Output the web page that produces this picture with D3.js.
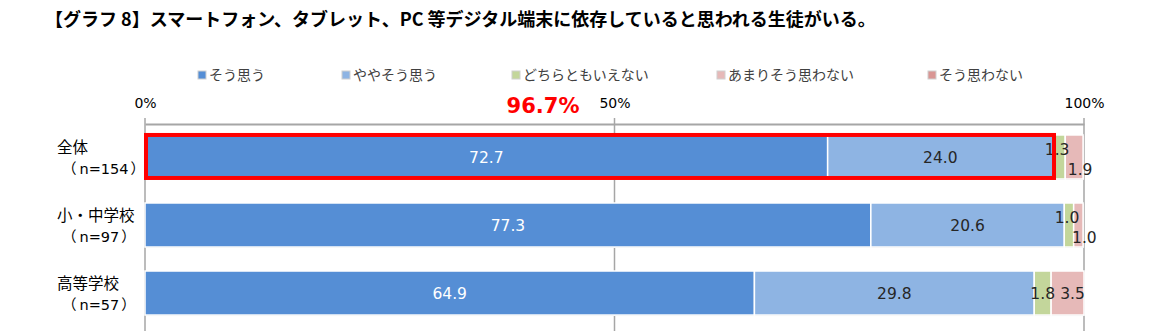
<!DOCTYPE html>
<html><head><meta charset="utf-8">
<script src="https://cdn.jsdelivr.net/npm/d3@7"></script>
<style>body{margin:0;background:#fff}svg{display:block}</style>
</head><body><svg id="c" width="1170" height="331"></svg>
<script>
const title = "【グラフ 8】スマートフォン、タブレット、PC 等デジタル端末に依存していると思われる生徒がいる。";
const categories = ["全体", "小・中学校", "高等学校"];
const sampleSizes = ["（n=154）", "（n=97）", "（n=57）"];
const seriesNames = ["そう思う", "ややそう思う", "どちらともいえない", "あまりそう思わない", "そう思わない"];
const soOmou = [72.7, 77.3, 64.9];
const yayaSoOmou = [24.0, 20.6, 29.8];
const dochiramo = [1.3, 1.0, 1.8];
const amariOmowanai = [1.9, 1.0, 3.5];
const soOmowanai = [0, 0, 0];
const tickValues = [0, 50, 100];
const tickLabels = ["0%", "50%", "100%"];
const highlightValue = 96.7;
const highlightLabel = "96.7%";
const colors = ["#558ED5", "#8EB4E3", "#C3D69B", "#E6B9B8", "#D99694"];

const series = [soOmou, yayaSoOmou, dochiramo, amariOmowanai, soOmowanai];
const svg = d3.select("#c");
const JP = "'Noto Sans CJK JP', 'Noto Sans', sans-serif";
const NUM = "'DejaVu Sans', sans-serif";

const x = d3.scaleLinear().domain([0, 100]).range([145, 1084]);
const y = d3.scaleBand().domain(categories).range([123, 327]).paddingInner(0.353).paddingOuter(0.176);

// title
svg.append("text").attr("x", 45).attr("y", 26).attr("font-family", JP).attr("font-weight", "bold")
  .attr("font-size", 18).attr("fill", "#000").text(title);

// legend
const legendX = [198, 342, 512, 717, 928];
const lg = svg.append("g");
seriesNames.forEach((n, i) => {
  lg.append("rect").attr("x", legendX[i]).attr("y", 71).attr("width", 8).attr("height", 8)
    .attr("fill", colors[i]).attr("stroke", "#d0d0d0").attr("stroke-width", 1);
  lg.append("text").attr("x", legendX[i] + 11).attr("y", 80).attr("font-family", JP)
    .attr("font-size", 14).attr("fill", "#404040").text(n);
});

// gridlines
svg.append("g").selectAll("line").data(tickValues).join("line")
  .attr("x1", d => x(d)).attr("x2", d => x(d)).attr("y1", 118).attr("y2", 331)
  .attr("stroke", "#a6a6a6").attr("stroke-width", 1.5);
// top axis
const axis = d3.axisTop(x).tickValues(tickValues).tickFormat((d, i) => tickLabels[i]).tickSize(0).tickPadding(16);
const ag = svg.append("g").attr("transform", "translate(0,124)").call(axis);
ag.select(".domain").attr("stroke", "#a6a6a6").attr("stroke-width", 2);
ag.selectAll("text").attr("font-family", NUM).attr("font-size", 14).attr("fill", "#000");

// stacked bars
const rows = categories.map((c, ri) => {
  let acc = 0;
  return series.map((s, si) => { const v = s[ri]; const seg = {c, ri, si, v, x0: acc, x1: acc + v}; acc += v; return seg; });
});
const bg = svg.append("g");
rows.forEach(r => {
  const total = r[r.length - 1].x1;
  bg.append("rect").attr("x", x(0) + 1).attr("y", y(r[0].c) + 1)
    .attr("width", x(total) - x(0)).attr("height", y.bandwidth()).attr("fill", "#dcdcdc");
});
const segs = rows.flat().filter(d => d.v > 0);
svg.append("g").selectAll("rect").data(segs).join("rect")
  .attr("x", d => x(d.x0)).attr("y", d => y(d.c))
  .attr("width", d => x(d.x1) - x(d.x0)).attr("height", y.bandwidth())
  .attr("fill", d => colors[d.si]).attr("stroke", "#fff").attr("stroke-width", 1.5);

// value labels
svg.append("g").selectAll("text").data(segs).join("text")
  .attr("x", d => {
    const cx = x((d.x0 + d.x1) / 2);
    if (d.ri < 2 && d.si === 2) return cx - 2;
    if (d.ri < 2 && d.si === 3) return cx + 6;
    if (d.ri === 2 && d.si === 3) return cx + 5;
    return cx;
  })
  .attr("y", d => {
    const cy = y(d.c) + y.bandwidth() / 2;
    if (d.ri < 2 && d.si === 2) return cy - 8;
    if (d.ri < 2 && d.si === 3) return cy + 12;
    return cy;
  })
  .attr("dy", "0.36em").attr("text-anchor", "middle")
  .attr("font-family", NUM).attr("font-size", 15.5)
  .attr("fill", d => d.si === 0 ? "#fff" : "#262626")
  .text(d => d.v.toFixed(1));

// category labels
const cl = svg.append("g");
categories.forEach((c, i) => {
  const cy = y(c) + y.bandwidth() / 2;
  cl.append("text").attr("x", 57).attr("y", cy - 4).attr("font-family", JP).attr("font-size", 15.5).attr("fill", "#000").text(c);
  const s = sampleSizes[i];
  const t = cl.append("text").attr("x", 62).attr("y", cy + 17).attr("font-size", 14.5).attr("fill", "#000");
  t.append("tspan").attr("font-family", JP).text(s.slice(0, 1));
  t.append("tspan").attr("font-family", NUM).attr("dx", 3).text(s.slice(1, -1));
  t.append("tspan").attr("font-family", JP).attr("dx", 2).text(s.slice(-1));
});

// highlight
const hy = y(categories[0]);
svg.append("rect").attr("x", x(0) + 1).attr("y", hy).attr("width", x(highlightValue) - x(0))
  .attr("height", y.bandwidth() - 1).attr("fill", "none").attr("stroke", "#ff0000").attr("stroke-width", 4);
svg.append("text").attr("x", 543).attr("y", 113).attr("text-anchor", "middle")
  .attr("font-family", NUM).attr("font-weight", "bold").attr("font-size", 21).attr("fill", "#ff0000").text(highlightLabel);
</script></body></html>
